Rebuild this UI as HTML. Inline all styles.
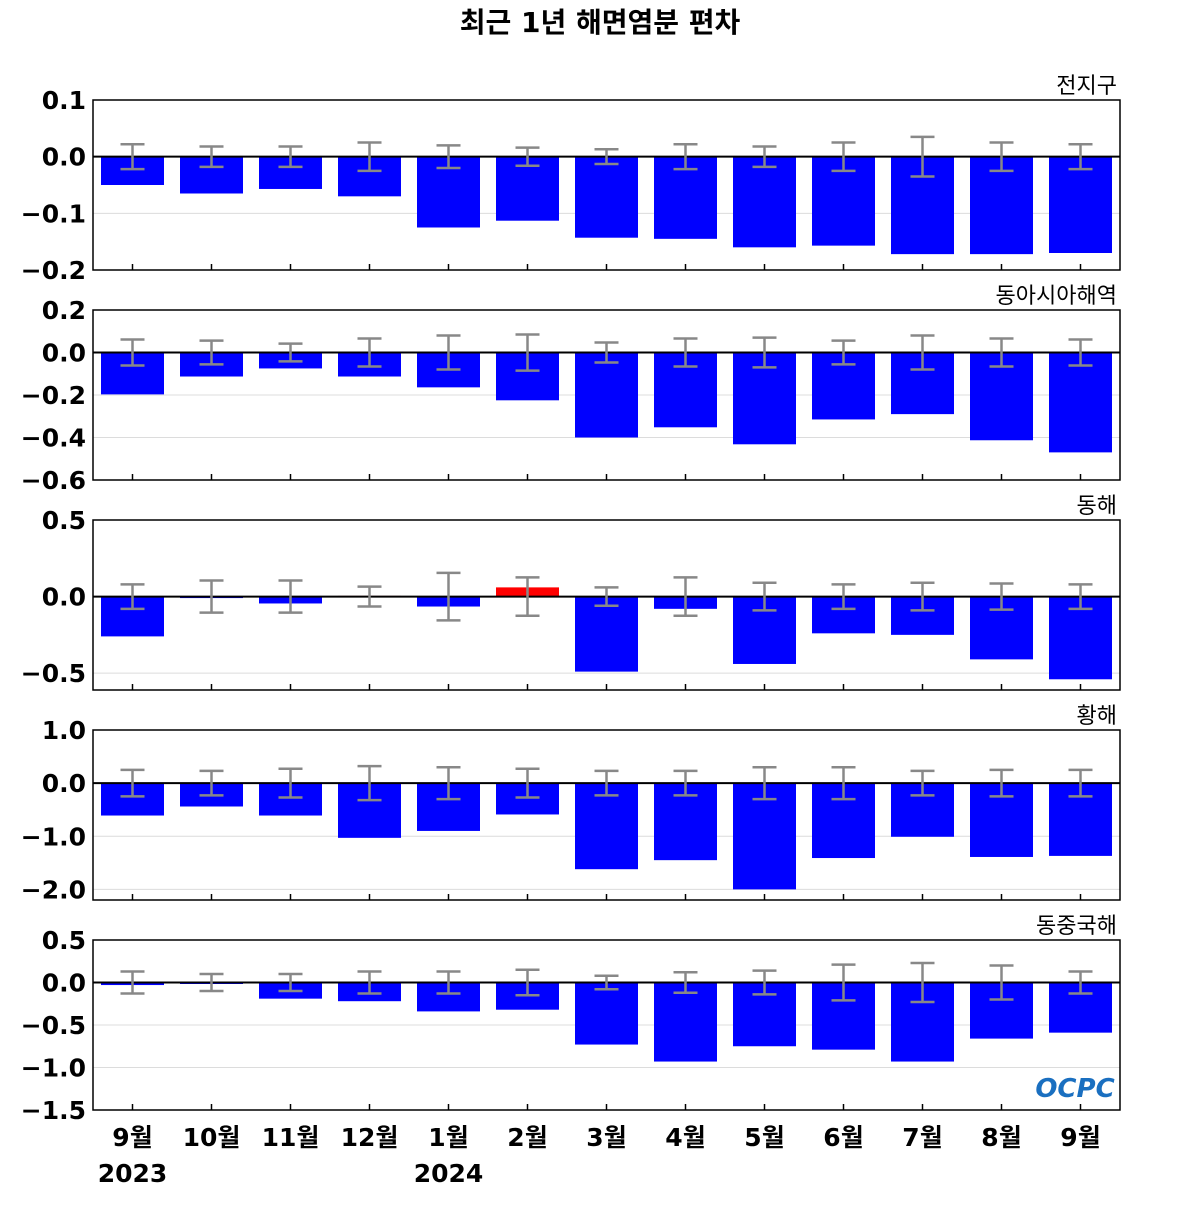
<!DOCTYPE html>
<html><head><meta charset="utf-8"><style>
body{margin:0;background:#fff;}
svg text{font-family:"DejaVu Sans","Noto Sans CJK KR",sans-serif;}
</style></head><body>
<svg id="chart" width="1200" height="1200" xmlns="http://www.w3.org/2000/svg">
<text x="600" y="32" text-anchor="middle" font-size="28" font-weight="bold">최근 1년 해면염분 편차</text>
<g id="panels"></g>
<text x="1075" y="1097" text-anchor="middle" font-size="26" font-weight="bold" fill="#1a6fc0" font-style="italic">OCPC</text>
</svg>
<script>
const categories=["9월","10월","11월","12월","1월","2월","3월","4월","5월","6월","7월","8월","9월"];
const panelNames=["전지구","동아시아해역","동해","황해","동중국해"];
const vals0=[-0.05,-0.065,-0.057,-0.07,-0.125,-0.113,-0.143,-0.145,-0.16,-0.157,-0.172,-0.172,-0.17];
const err0=[0.022,0.018,0.018,0.025,0.02,0.016,0.013,0.022,0.018,0.025,0.035,0.025,0.022];
const vals1=[-0.197,-0.113,-0.075,-0.113,-0.164,-0.225,-0.40,-0.352,-0.432,-0.315,-0.29,-0.413,-0.47];
const err1=[0.061,0.056,0.042,0.066,0.08,0.085,0.047,0.066,0.07,0.056,0.08,0.066,0.061];
const vals2=[-0.26,-0.005,-0.045,0.005,-0.065,0.06,-0.49,-0.08,-0.44,-0.24,-0.25,-0.41,-0.54];
const err2=[0.08,0.105,0.105,0.065,0.155,0.125,0.06,0.125,0.09,0.08,0.09,0.085,0.08];
const vals3=[-0.61,-0.44,-0.61,-1.03,-0.9,-0.59,-1.62,-1.45,-2.0,-1.41,-1.01,-1.39,-1.37];
const err3=[0.25,0.23,0.27,0.32,0.3,0.27,0.23,0.23,0.3,0.3,0.23,0.25,0.25];
const vals4=[-0.03,-0.005,-0.19,-0.22,-0.34,-0.32,-0.73,-0.93,-0.75,-0.79,-0.93,-0.66,-0.59];
const err4=[0.13,0.1,0.1,0.13,0.13,0.15,0.08,0.12,0.14,0.21,0.23,0.2,0.13];
const ticks0=[0.1,0.0,-0.1,-0.2];
const ticks1=[0.2,0.0,-0.2,-0.4,-0.6];
const ticks2=[0.5,0.0,-0.5];
const ticks3=[1.0,0.0,-1.0,-2.0];
const ticks4=[0.5,0.0,-0.5,-1.0,-1.5];
const tickLabels0=["0.1","0.0","−0.1","−0.2"];
const tickLabels1=["0.2","0.0","−0.2","−0.4","−0.6"];
const tickLabels2=["0.5","0.0","−0.5"];
const tickLabels3=["1.0","0.0","−1.0","−2.0"];
const tickLabels4=["0.5","0.0","−0.5","−1.0","−1.5"];
const domains=[[0.1,-0.2],[0.2,-0.6],[0.5,-0.61],[1.0,-2.2],[0.5,-1.5]];
const yearLabels=[["2023",0],["2024",4]];

const NS="http://www.w3.org/2000/svg";
const root=document.getElementById('panels');
function mk(tag,attrs,parent){const e=document.createElementNS(NS,tag);for(const k in attrs)e.setAttribute(k,attrs[k]);parent.appendChild(e);return e;}
const L=93,R=1120,tops=[100,310,520,730,940],H=170;
const step=(R-L)/13;
function xPos(i){return L+step*(i+0.5);}
const allVals=[vals0,vals1,vals2,vals3,vals4],allErr=[err0,err1,err2,err3,err4];
const allTicks=[ticks0,ticks1,ticks2,ticks3,ticks4],allTL=[tickLabels0,tickLabels1,tickLabels2,tickLabels3,tickLabels4];
for(let p=0;p<5;p++){
  const top=tops[p],[d0,d1]=domains[p];
  const y=v=>top+(d0-v)/(d0-d1)*H;
  const g=mk('g',{},root);
  
  
  allTicks[p].forEach((t,i)=>{
    if(t!==0){const gl=mk('line',{x1:L,x2:R,y1:y(t),y2:y(t),stroke:'#dcdcdc','stroke-width':1},g);
    }
    const tl=mk('text',{x:L-7,y:y(t)+9,'text-anchor':'end','font-size':25,'font-weight':'bold'},g);
    tl.textContent=allTL[p][i];
    
  });
  allVals[p].forEach((v,i)=>{
    const cx=xPos(i),bw=63;
    const y0=y(0),yv=y(v);
    const b=mk('rect',{x:cx-bw/2,y:Math.min(y0,yv),width:bw,height:Math.max(Math.abs(yv-y0),1.5),fill:v>=0?'#ff0000':'#0000ff'},g);
    if(v>=0&&v<0.01)b.setAttribute('fill','#ff9090');
    
    
  });
  mk('line',{x1:L,x2:R,y1:y(0),y2:y(0),stroke:'#000','stroke-width':2},g);
  allErr[p].forEach((e,i)=>{
    const cx=xPos(i),a=y(e),b=y(-e);
    const eg=mk('g',{stroke:'#888','stroke-width':2.5},g);
    
    
    mk('line',{x1:cx,x2:cx,y1:a,y2:b},eg);
    mk('line',{x1:cx-12,x2:cx+12,y1:a,y2:a},eg);
    mk('line',{x1:cx-12,x2:cx+12,y1:b,y2:b},eg);
    mk('line',{x1:cx,x2:cx,y1:top+H,y2:top+H-6,stroke:'#000','stroke-width':1.5},g);
  });
  const fr=mk('rect',{x:L,y:top,width:R-L,height:H,fill:'none',stroke:'#000','stroke-width':1.5},g);
  
  const pt=mk('text',{x:R-3,y:top-7,'text-anchor':'end','font-size':22},g);
  pt.textContent=panelNames[p];
  
}
categories.forEach((c,i)=>{
  const t=mk('text',{x:xPos(i),y:1146,'text-anchor':'middle','font-size':25,'font-weight':'bold'},root);
  t.textContent=c;
  
});
yearLabels.forEach(([yl,i])=>{
  const t=mk('text',{x:xPos(i),y:1182,'text-anchor':'middle','font-size':25,'font-weight':'bold'},root);
  t.textContent=yl;
  
});
</script>
</body></html>
